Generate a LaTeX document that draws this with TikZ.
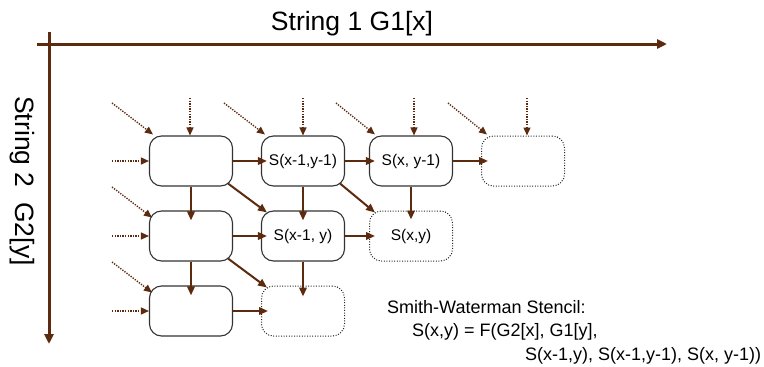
\documentclass[tikz,border=0pt]{standalone}
\usepackage{fontspec}
\setmainfont{Liberation Sans}
\usetikzlibrary{arrows.meta}
\definecolor{brn}{RGB}{92,42,14}
\begin{document}
\begin{tikzpicture}[x=1pt,y=-1pt,
  cell/.style={draw=black!80, line width=1.1pt, rounded corners=12pt, minimum width=83pt, minimum height=50pt, inner sep=0pt, font=\fontsize{15.5}{18}\selectfont},
  ghost/.style={cell, draw=black!85, line width=1pt, dash pattern=on 1pt off 1.6pt},
  link/.style={draw=brn, line width=2pt, -{Triangle[length=9pt,width=7.5pt]}},
  feed/.style={draw=brn, line width=1.4pt, dash pattern=on 1.3pt off 1.3pt, -{Triangle[length=8pt,width=7pt]}},
  axis/.style={draw=brn, line width=3pt, -{Triangle[length=10pt,width=9pt]}},
  title/.style={font=\fontsize{26.5}{30}\selectfont, inner sep=0pt},
  note/.style={font=\fontsize{18}{22}\selectfont, inner sep=0pt, anchor=base west}]
\useasboundingbox (0,0) rectangle (764,367);

% axes
\coordinate (hx0) at (37,44);
\coordinate (hx1) at (667,44);
\coordinate (vy0) at (49,32);
\coordinate (vy1) at (49,344);
\draw[axis] (hx0) -- (hx1);
\draw[axis] (vy0) -- (vy1);
\node[title, anchor=base] (t1) at (352,30) {String 1 G1[x]};
\node[title, rotate=-90] (t2) at (22,181) {String 2\ \ G2[y]};

% cells
\node[cell]  (a11) at (191,161) {};
\node[cell]  (a12) at (303,161) {S(x-1,y-1)};
\node[cell]  (a13) at (411,161) {S(x, y-1)};
\node[ghost] (a14) at (523,161) {};
\node[cell]  (a21) at (191,236) {};
\node[cell]  (a22) at (303,236) {S(x-1, y)};
\node[ghost] (a23) at (411,236) {S(x,y)};
\node[cell]  (a31) at (191,311) {};
\node[ghost] (a32) at (303,311) {};

% horizontal links
\draw[link] (a11.east) -- ([xshift=6pt]a12.west);
\draw[link] (a12.east) -- ([xshift=6pt]a13.west);
\draw[link] (a13.east) -- ([xshift=7pt]a14.west);
\draw[link] (a21.east) -- ([xshift=6pt]a22.west);
\draw[link] (a22.east) -- ([xshift=6pt]a23.west);
\draw[link] (a31.east) -- ([xshift=7pt]a32.west);
% vertical links
\draw[link] (a11.south) -- ([yshift=-10pt]a21.north);
\draw[link] (a12.south) -- ([yshift=-10pt]a22.north);
\draw[link] (a13.south) -- ([yshift=-9pt]a23.north);
\draw[link] (a21.south) -- ([yshift=-10pt]a31.north);
\draw[link] (a22.south) -- ([yshift=-11pt]a32.north);
% diagonal links
\draw[link] ([shift={(-5pt,3pt)}]a11.south east) -- ([shift={(6pt,-2pt)}]a22.north west);
\draw[link] ([shift={(-5pt,3pt)}]a12.south east) -- ([shift={(6pt,-2pt)}]a23.north west);
\draw[link] ([shift={(-5pt,3pt)}]a21.south east) -- ([shift={(6pt,-2pt)}]a32.north west);

% vertical feeds
\coordinate (v1) at (190,98);
\coordinate (v2) at (303,98);
\coordinate (v3) at (414,98);
\coordinate (v4) at (527,98);
\draw[feed] (v1) -- (v1 |- a11.north);
\draw[feed] (v2) -- (v2 |- a12.north);
\draw[feed] (v3) -- (v3 |- a13.north);
\draw[feed] (v4) -- (v4 |- a14.north);
% diagonal feeds
\coordinate (d1) at (112,103);
\coordinate (d2) at (224,103);
\coordinate (d3) at (336,103);
\coordinate (d4) at (448,103);
\coordinate (d5) at (112,187);
\coordinate (d6) at (112,262);
\draw[feed] (d1) -- ([shift={(4pt,1pt)}]a11.north west);
\draw[feed] (d2) -- ([shift={(4pt,1pt)}]a12.north west);
\draw[feed] (d3) -- ([shift={(6pt,1pt)}]a13.north west);
\draw[feed] (d4) -- ([shift={(6pt,1pt)}]a14.north west);
\draw[feed] (d5) -- ([shift={(3pt,-7pt)}]a21.north west);
\draw[feed] (d6) -- ([shift={(3pt,-7pt)}]a31.north west);
% horizontal feeds
\coordinate (h1) at (112,161);
\coordinate (h2) at (112,236);
\coordinate (h3) at (112,311);
\draw[feed] (h1) -- (a11.west);
\draw[feed] (h2) -- (a21.west);
\draw[feed] (h3) -- (a31.west);

% stencil text
\node[note] (n1) at (387,313) {Smith-Waterman Stencil:};
\node[note] (n2) at (412,336.5) {S(x,y) = F(G2[x], G1[y],};
\node[note] (n3) at (525,360) {S(x-1,y), S(x-1,y-1), S(x, y-1))};
\end{tikzpicture}
\end{document}
